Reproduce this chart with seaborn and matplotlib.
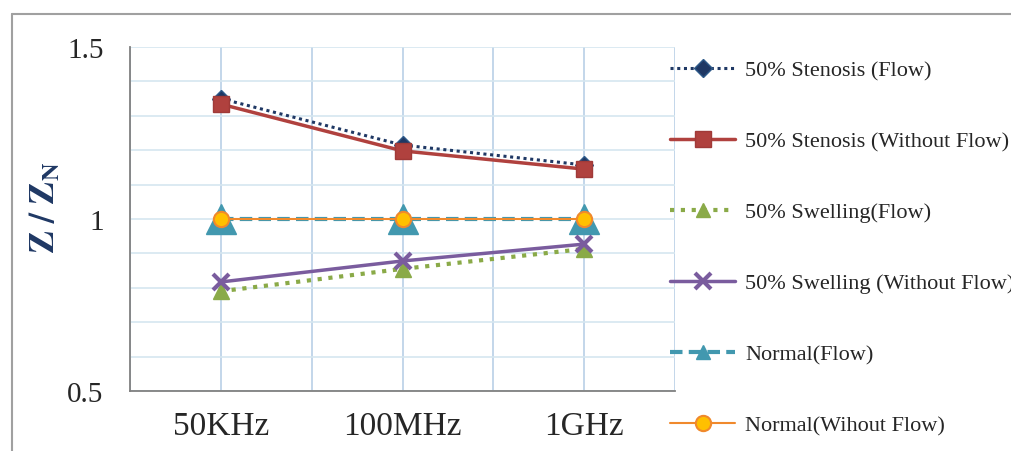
import matplotlib
matplotlib.use("Agg")
import matplotlib.pyplot as plt
import seaborn as sns
import pandas as pd
from matplotlib.lines import Line2D

categories = ["50KHz", "100MHz", "1GHz"]
stenosis_flow = [1.35, 1.215, 1.157]
stenosis_noflow = [1.334, 1.198, 1.145]
swelling_flow = [0.79, 0.855, 0.913]
swelling_noflow = [0.817, 0.878, 0.927]
normal_flow = [1.0, 1.0, 1.0]
normal_noflow = [1.0, 1.0, 1.0]

labels = ["50% Stenosis (Flow)", "50% Stenosis (Without Flow)", "50% Swelling(Flow)",
          "50% Swelling (Without Flow)", "Normal(Flow)", "Normal(Wihout Flow)"]
series = [stenosis_flow, stenosis_noflow, swelling_flow, swelling_noflow, normal_flow, normal_noflow]

styles = [
    dict(color="#1F3864", ls=(0, (1, 1.2)), lw=2.2, marker="D", ms=9, mfc="#1F3864", mec="#2E5A8A", zorder=4),
    dict(color="#B0413E", ls="-", lw=2.5, marker="s", ms=12, mfc="#B0413E", mec="#A03A38", zorder=5),
    dict(color="#8AAA48", ls=(0, (1, 1.6)), lw=3, marker="^", ms=11, mfc="#8AAA48", mec="#8AAA48", zorder=4),
    dict(color="#7A5C9E", ls="-", lw=2.5, marker="x", ms=11, mfc="#7A5C9E", mec="#7A5C9E", mew=3, zorder=5),
    dict(color="#4298AF", ls=(0, (3, 1.5)), lw=3, marker="^", ms=22, mfc="#4298AF", mec="#4298AF", zorder=3),
    dict(color="#F0892C", ls="-", lw=1.5, marker="o", ms=11, mfc="#FFC000", mec="#F0892C", mew=1.5, zorder=6),
]

sns.set_style("white")
plt.rcParams["font.family"] = ["Liberation Serif", "DejaVu Serif"]
plt.rcParams["mathtext.fontset"] = "stix"

fig = plt.figure(figsize=(10.11, 4.52), dpi=100)
ax = fig.add_axes([130/1011, 1-392/452, (675-130)/1011, (392-48)/452])

df = pd.DataFrame({"x": list(range(len(categories))) * len(series),
                   "y": sum(series, []),
                   "s": sum([[l]*len(categories) for l in labels], [])})

handles = []
for lab, st in zip(labels, styles):
    sub = df[df.s == lab]
    sns.lineplot(data=sub, x="x", y="y", ax=ax, color=st["color"], linestyle=st["ls"],
                 linewidth=st["lw"], marker=st["marker"], markersize=st["ms"],
                 markerfacecolor=st["mfc"], markeredgecolor=st["mec"],
                 markeredgewidth=st.get("mew", 1), zorder=st["zorder"], legend=False)
    hms = min(st["ms"], 12) if st["marker"] != "^" else 10
    handles.append(Line2D([], [], color=st["color"], linestyle=st["ls"], linewidth=st["lw"],
                          marker=st["marker"], markersize=hms, markerfacecolor=st["mfc"],
                          markeredgecolor=st["mec"], markeredgewidth=st.get("mew", 1)))

ax.set_xlim(-0.5, 2.5)
ax.set_ylim(0.5, 1.5)
ax.set_yticks([0.5, 1.0, 1.5])
ax.set_yticklabels(["0.5", "1", "1.5"])
ax.set_yticks([0.6, 0.7, 0.8, 0.9, 1.1, 1.2, 1.3, 1.4], minor=True)
ax.set_xticks([-0.5, 0.5, 1.5, 2.5])
ax.set_xticklabels([])
ax.set_xticks([0, 1, 2], minor=True)
ax.set_xticklabels(categories, minor=True)

ax.tick_params(axis="x", which="major", direction="out", length=6, width=1.2, color="#808080")
ax.tick_params(axis="x", which="minor", length=0, labelsize=24, pad=14)
ax.tick_params(axis="y", which="major", direction="out", length=6, width=1.2, color="#808080", labelsize=21, pad=13)
ax.tick_params(axis="y", which="minor", length=0)

ax.grid(True, axis="y", which="both", color="#D5E6F0", lw=1.2, zorder=0)
ax.grid(True, axis="x", which="both", color="#B9CFE6", lw=1.2, zorder=0)
ax.set_axisbelow(True)
for sp in ["top", "right"]:
    ax.spines[sp].set_visible(False)
for sp in ["left", "bottom"]:
    ax.spines[sp].set_color("#808080")
    ax.spines[sp].set_linewidth(1.3)

ax.set_xlabel("")
ax.set_ylabel(r"$\mathbf{Z\ /\ Z_{N}}$", fontsize=25, color="#1F3864")
ax.yaxis.set_label_coords(-0.125, 0.535)

fig.legend(handles=handles, labels=labels, loc="upper left", bbox_to_anchor=(661/1011, 1-52/452),
           frameon=False, fontsize=16, handlelength=2.95, handletextpad=0.45, labelspacing=2.27,
           borderaxespad=0)

# figure frame
fig.add_artist(Line2D([12/1011, 1], [1-15/452, 1-15/452], transform=fig.transFigure, color="#A0A0A0", lw=1.5))
fig.add_artist(Line2D([12/1011, 12/1011], [0, 1-15/452], transform=fig.transFigure, color="#A0A0A0", lw=1.5))

fig.savefig("out.png", dpi=100)
